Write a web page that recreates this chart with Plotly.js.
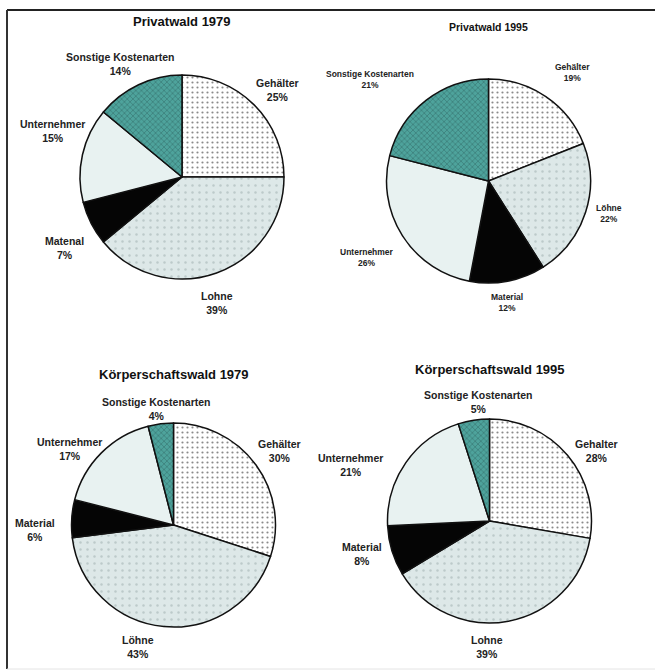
<!DOCTYPE html>
<html><head><meta charset="utf-8">
<script src="https://cdn.plot.ly/plotly-3.0.1.min.js"></script>
<style>html,body{margin:0;padding:0;background:#fff}</style>
</head><body><div id="chart" style="width:655px;height:672px"></div>
<script>
// categories (clockwise from 12 o'clock)
const categories = ["Gehälter", "Löhne", "Material", "Unternehmer", "Sonstige Kostenarten"];
// displayed labels per chart (as printed)
const labelsPriv79 = ["Gehälter", "Lohne", "Matenal", "Unternehmer", "Sonstige Kostenarten"];
const labelsPriv95 = ["Gehälter", "Löhne", "Material", "Unternehmer", "Sonstige Kostenarten"];
const labelsKoerp79 = ["Gehälter", "Löhne", "Material", "Unternehmer", "Sonstige Kostenarten"];
const labelsKoerp95 = ["Gehalter", "Lohne", "Material", "Unternehmer", "Sonstige Kostenarten"];
// values in percent
const privatwald1979 = [25, 39, 7, 15, 14];
const privatwald1995 = [19, 22, 12, 26, 21];
const koerperschaftswald1979 = [30, 43, 6, 17, 4];
const koerperschaftswald1995 = [28, 39, 8, 21, 5];
const titles = ["Privatwald 1979", "Privatwald 1995", "Körperschaftswald 1979", "Körperschaftswald 1995"];

const W = 655, H = 672;
// pie geometry in pixels (center x, center y from top, radius) and label styling
const geo = [
  {cx: 182, cy: 177, r: 102, ty: 22, tsize: 13, lsize: 10.5, lk: 1.30},
  {cx: 488.5, cy: 181, r: 102, ty: 27, tsize: 10.5, lsize: 8.5, lk: 1.32},
  {cx: 173.5, cy: 525, r: 102, ty: 374, tsize: 13, lsize: 10.5, lk: 1.30},
  {cx: 489.5, cy: 521, r: 102, ty: 369, tsize: 13, lsize: 10.5, lk: 1.30}
];
// small pixel nudges applied to the radially placed labels (layout only)
const labelNudge = [
  [[2, 7], [-10, 1], [1, 11], [0, -17], [-5, 7]],
  [[8, 3], [-8, -9], [-7, -11], [-8, 4], [-36, 5]],
  [[-1, 4], [-23, -10], [-6, 13], [-10, 18], [0, 16]],
  [[6, 15], [-27, -4], [-1, -6], [-30, 20], [10, 12]]
];
const series = [privatwald1979, privatwald1995, koerperschaftswald1979, koerperschaftswald1995];
const labelSets = [labelsPriv79, labelsPriv95, labelsKoerp79, labelsKoerp95];

const fills = ["#ffffff", "#dde8e8", "#050505", "#e8f2f1", "#4ea39c"];
const patterns = {
  shape: [".", ".", "", "", "x"],
  fgcolor: ["#8a8a8a", "#bccaca", "#000000", "#e8f2f1", "#2e6662"],
  bgcolor: fills,
  size: [5, 7, 8, 8, 4],
  solidity: [0.15, 0.1, 0.3, 0.3, 0.22],
  fillmode: "replace"
};

const FONT = "Liberation Sans, Arial, sans-serif";
const traces = [], annotations = [];
series.forEach((vals, i) => {
  const g = geo[i];
  traces.push({
    type: "pie",
    values: vals,
    labels: categories,
    sort: false,
    direction: "clockwise",
    rotation: 0,
    textinfo: "none",
    hoverinfo: "label+value",
    showlegend: false,
    marker: {colors: fills, line: {color: "#111", width: 1.5}, pattern: patterns},
    domain: {x: [(g.cx - g.r) / W, (g.cx + g.r) / W], y: [1 - (g.cy + g.r) / H, 1 - (g.cy - g.r) / H]}
  });
  annotations.push({
    text: "<b>" + titles[i] + "</b>", x: g.cx / W, y: 1 - g.ty / H, xref: "paper", yref: "paper",
    showarrow: false, xanchor: "center", yanchor: "middle", font: {family: FONT, size: g.tsize, color: "#111"}
  });
  const total = vals.reduce((a, b) => a + b, 0);
  let cum = 0;
  vals.forEach((v, j) => {
    const mid = (cum + v / 2) / total * 2 * Math.PI;
    cum += v;
    const px = g.cx + g.lk * g.r * Math.sin(mid) + labelNudge[i][j][0];
    const py = g.cy - g.lk * g.r * Math.cos(mid) + labelNudge[i][j][1];
    annotations.push({
      text: "<b>" + labelSets[i][j] + "<br>" + v + "%</b>", x: px / W, y: 1 - py / H,
      xref: "paper", yref: "paper", showarrow: false, xanchor: "center", yanchor: "middle",
      align: "center", font: {family: FONT, size: g.lsize, color: "#222"}
    });
  });
});

const layout = {
  width: W, height: H, margin: {l: 0, r: 0, t: 0, b: 0},
  paper_bgcolor: "#fff", plot_bgcolor: "#fff",
  annotations: annotations,
  shapes: [
    {type: "line", xref: "paper", yref: "paper", x0: 7 / W, x1: 1, y0: 1 - 10 / H, y1: 1 - 10 / H, line: {color: "#222", width: 2}},
    {type: "line", xref: "paper", yref: "paper", x0: 7 / W, x1: 7 / W, y0: 1 - 10 / H, y1: 1 - 669 / H, line: {color: "#333", width: 2}},
    {type: "line", xref: "paper", yref: "paper", x0: 7 / W, x1: 1, y0: 1 - 669 / H, y1: 1 - 669 / H, line: {color: "#e4e4e4", width: 1}}
  ]
};
Plotly.newPlot("chart", traces, layout, {displayModeBar: false, staticPlot: true});
</script></body></html>
